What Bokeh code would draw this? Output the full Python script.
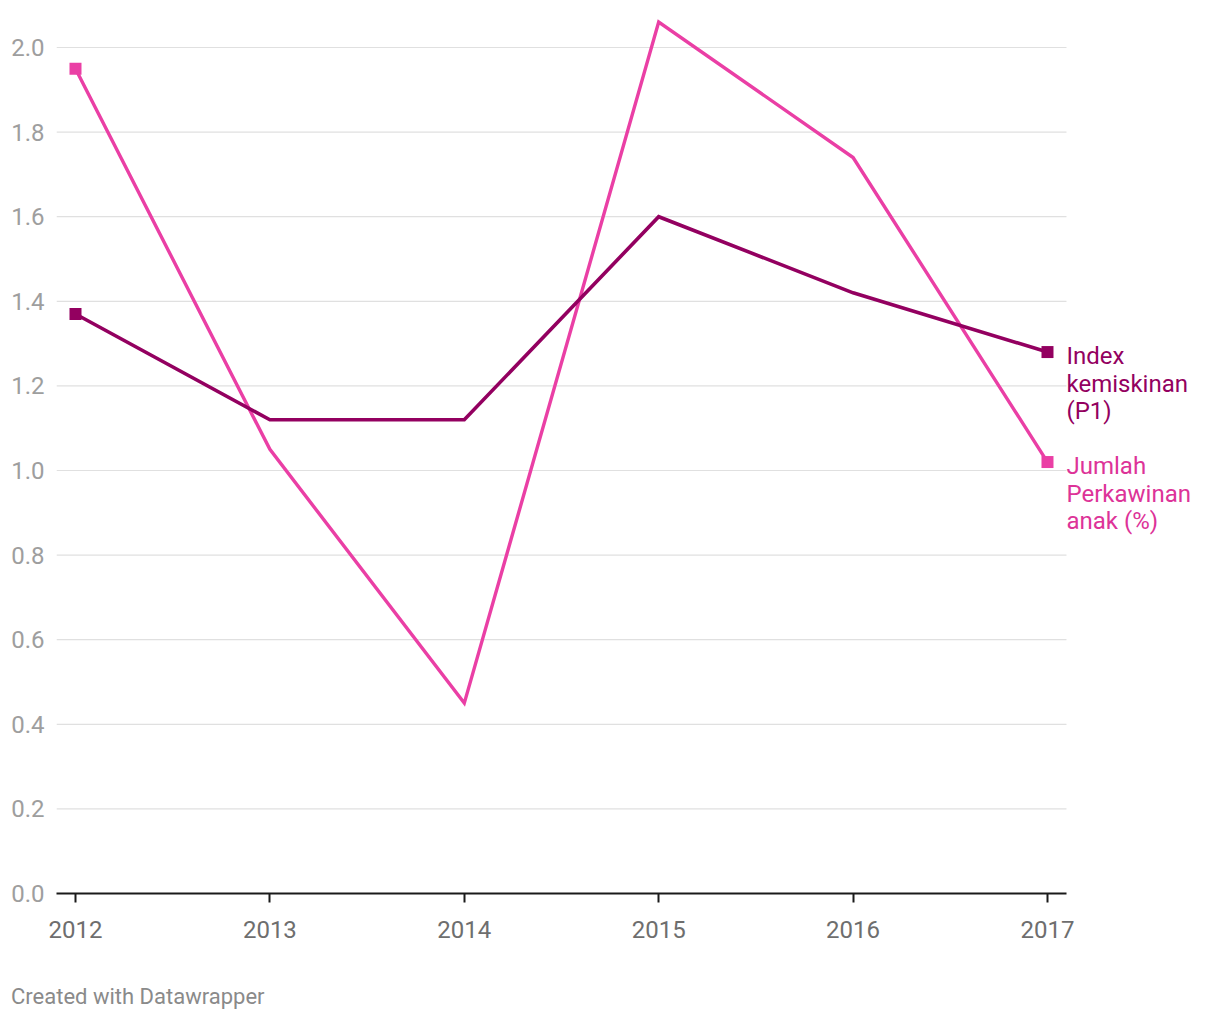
from bokeh.plotting import figure
from bokeh.layouts import column
from bokeh.models import ColumnDataSource, FixedTicker, NumeralTickFormatter, Label, Range1d, Div
from bokeh.embed import file_html
from bokeh.resources import INLINE

years = [2012, 2013, 2014, 2015, 2016, 2017]
index_kemiskinan = [1.37, 1.12, 1.12, 1.60, 1.42, 1.28]
perkawinan_anak = [1.95, 1.05, 0.45, 2.06, 1.74, 1.02]
y_ticks = [0.0, 0.2, 0.4, 0.6, 0.8, 1.0, 1.2, 1.4, 1.6, 1.8, 2.0]
label_index = ["Index", "kemiskinan", "(P1)"]
label_perkawinan = ["Jumlah", "Perkawinan", "anak (%)"]
credit = "Created with Datawrapper"

DARK = "#930060"
PINK = "#ea3fa5"
PINK_TEXT = "#dd3398"
FONT = "Roboto"

W, H = 1216, 975
X0, X1 = 2011.9023, 2017.0977      # extent of axis line / grid
PX_PER_YEAR = 194.4
FRAME_L, FRAME_T, FRAME_B = 56, 13, 893
x_end = X0 + (W - FRAME_L) / PX_PER_YEAR
y_end = (FRAME_B - FRAME_T) / 423.0

p = figure(width=W, height=H, output_backend="svg", toolbar_location=None,
           x_range=Range1d(X0, x_end), y_range=Range1d(0, y_end),
           min_border_left=FRAME_L, min_border_right=0, min_border_top=FRAME_T,
           min_border_bottom=H - FRAME_B)
p.outline_line_color = None
p.background_fill_color = "white"
p.border_fill_color = "white"

p.xgrid.visible = False
p.ygrid.visible = False

# horizontal grid lines, limited to the data area
p.segment(x0=[X0] * len(y_ticks), x1=[X1] * len(y_ticks), y0=y_ticks, y1=y_ticks,
          line_color="#e0e0e0", line_width=1.2)

# y axis
p.yaxis.ticker = FixedTicker(ticks=y_ticks)
p.yaxis.formatter = NumeralTickFormatter(format="0.0")
p.yaxis.axis_line_color = None
p.yaxis.major_tick_line_color = None
p.yaxis.minor_tick_line_color = None
p.yaxis.major_label_standoff = 6
p.yaxis.major_label_text_font = FONT
p.yaxis.major_label_text_font_size = "24px"
p.yaxis.major_label_text_color = "#9e9e9e"

# x axis
p.xaxis.ticker = FixedTicker(ticks=years)
p.xaxis.bounds = (X0, X1)
p.xaxis.axis_line_color = "#1a1a1a"
p.xaxis.axis_line_width = 2
p.xaxis.major_tick_line_color = "#1a1a1a"
p.xaxis.major_tick_line_width = 2
p.xaxis.major_tick_in = 0
p.xaxis.major_tick_out = 9
p.xaxis.minor_tick_line_color = None
p.xaxis.major_label_standoff = 18
p.xaxis.major_label_text_font = FONT
p.xaxis.major_label_text_font_size = "24px"
p.xaxis.major_label_text_color = "#6e6e6e"

src = ColumnDataSource(dict(x=years, a=index_kemiskinan, b=perkawinan_anak))
ends = ColumnDataSource(dict(x=[years[0], years[-1]],
                             a=[index_kemiskinan[0], index_kemiskinan[-1]],
                             b=[perkawinan_anak[0], perkawinan_anak[-1]]))

p.line("x", "b", source=src, line_color=PINK, line_width=3.4, line_join="miter")
p.scatter("x", "b", source=ends, marker="square", size=12, fill_color=PINK, line_color=None)
p.line("x", "a", source=src, line_color=DARK, line_width=3.6, line_join="miter")
p.scatter("x", "a", source=ends, marker="square", size=12, fill_color=DARK, line_color=None)

LINE_H = 27.6
for lines, yv, col in ((label_index, index_kemiskinan[-1], DARK),
                       (label_perkawinan, perkawinan_anak[-1], PINK_TEXT)):
    for i, t in enumerate(lines):
        p.add_layout(Label(x=years[-1], y=yv, x_offset=19, y_offset=-4 - i * LINE_H,
                           text=t, text_font=FONT, text_font_size="24px",
                           text_color=col, text_baseline="middle", text_align="left"))

# credit line below the chart
c = Div(text=credit, width=W, height=38,
        styles={"font-family": "Roboto", "font-size": "22px", "color": "#8a8a8a",
                "padding-left": "6px", "padding-top": "6px", "line-height": "1",
                "white-space": "nowrap"})

open("out.html", "w").write(file_html(column(p, c, spacing=0), INLINE))
